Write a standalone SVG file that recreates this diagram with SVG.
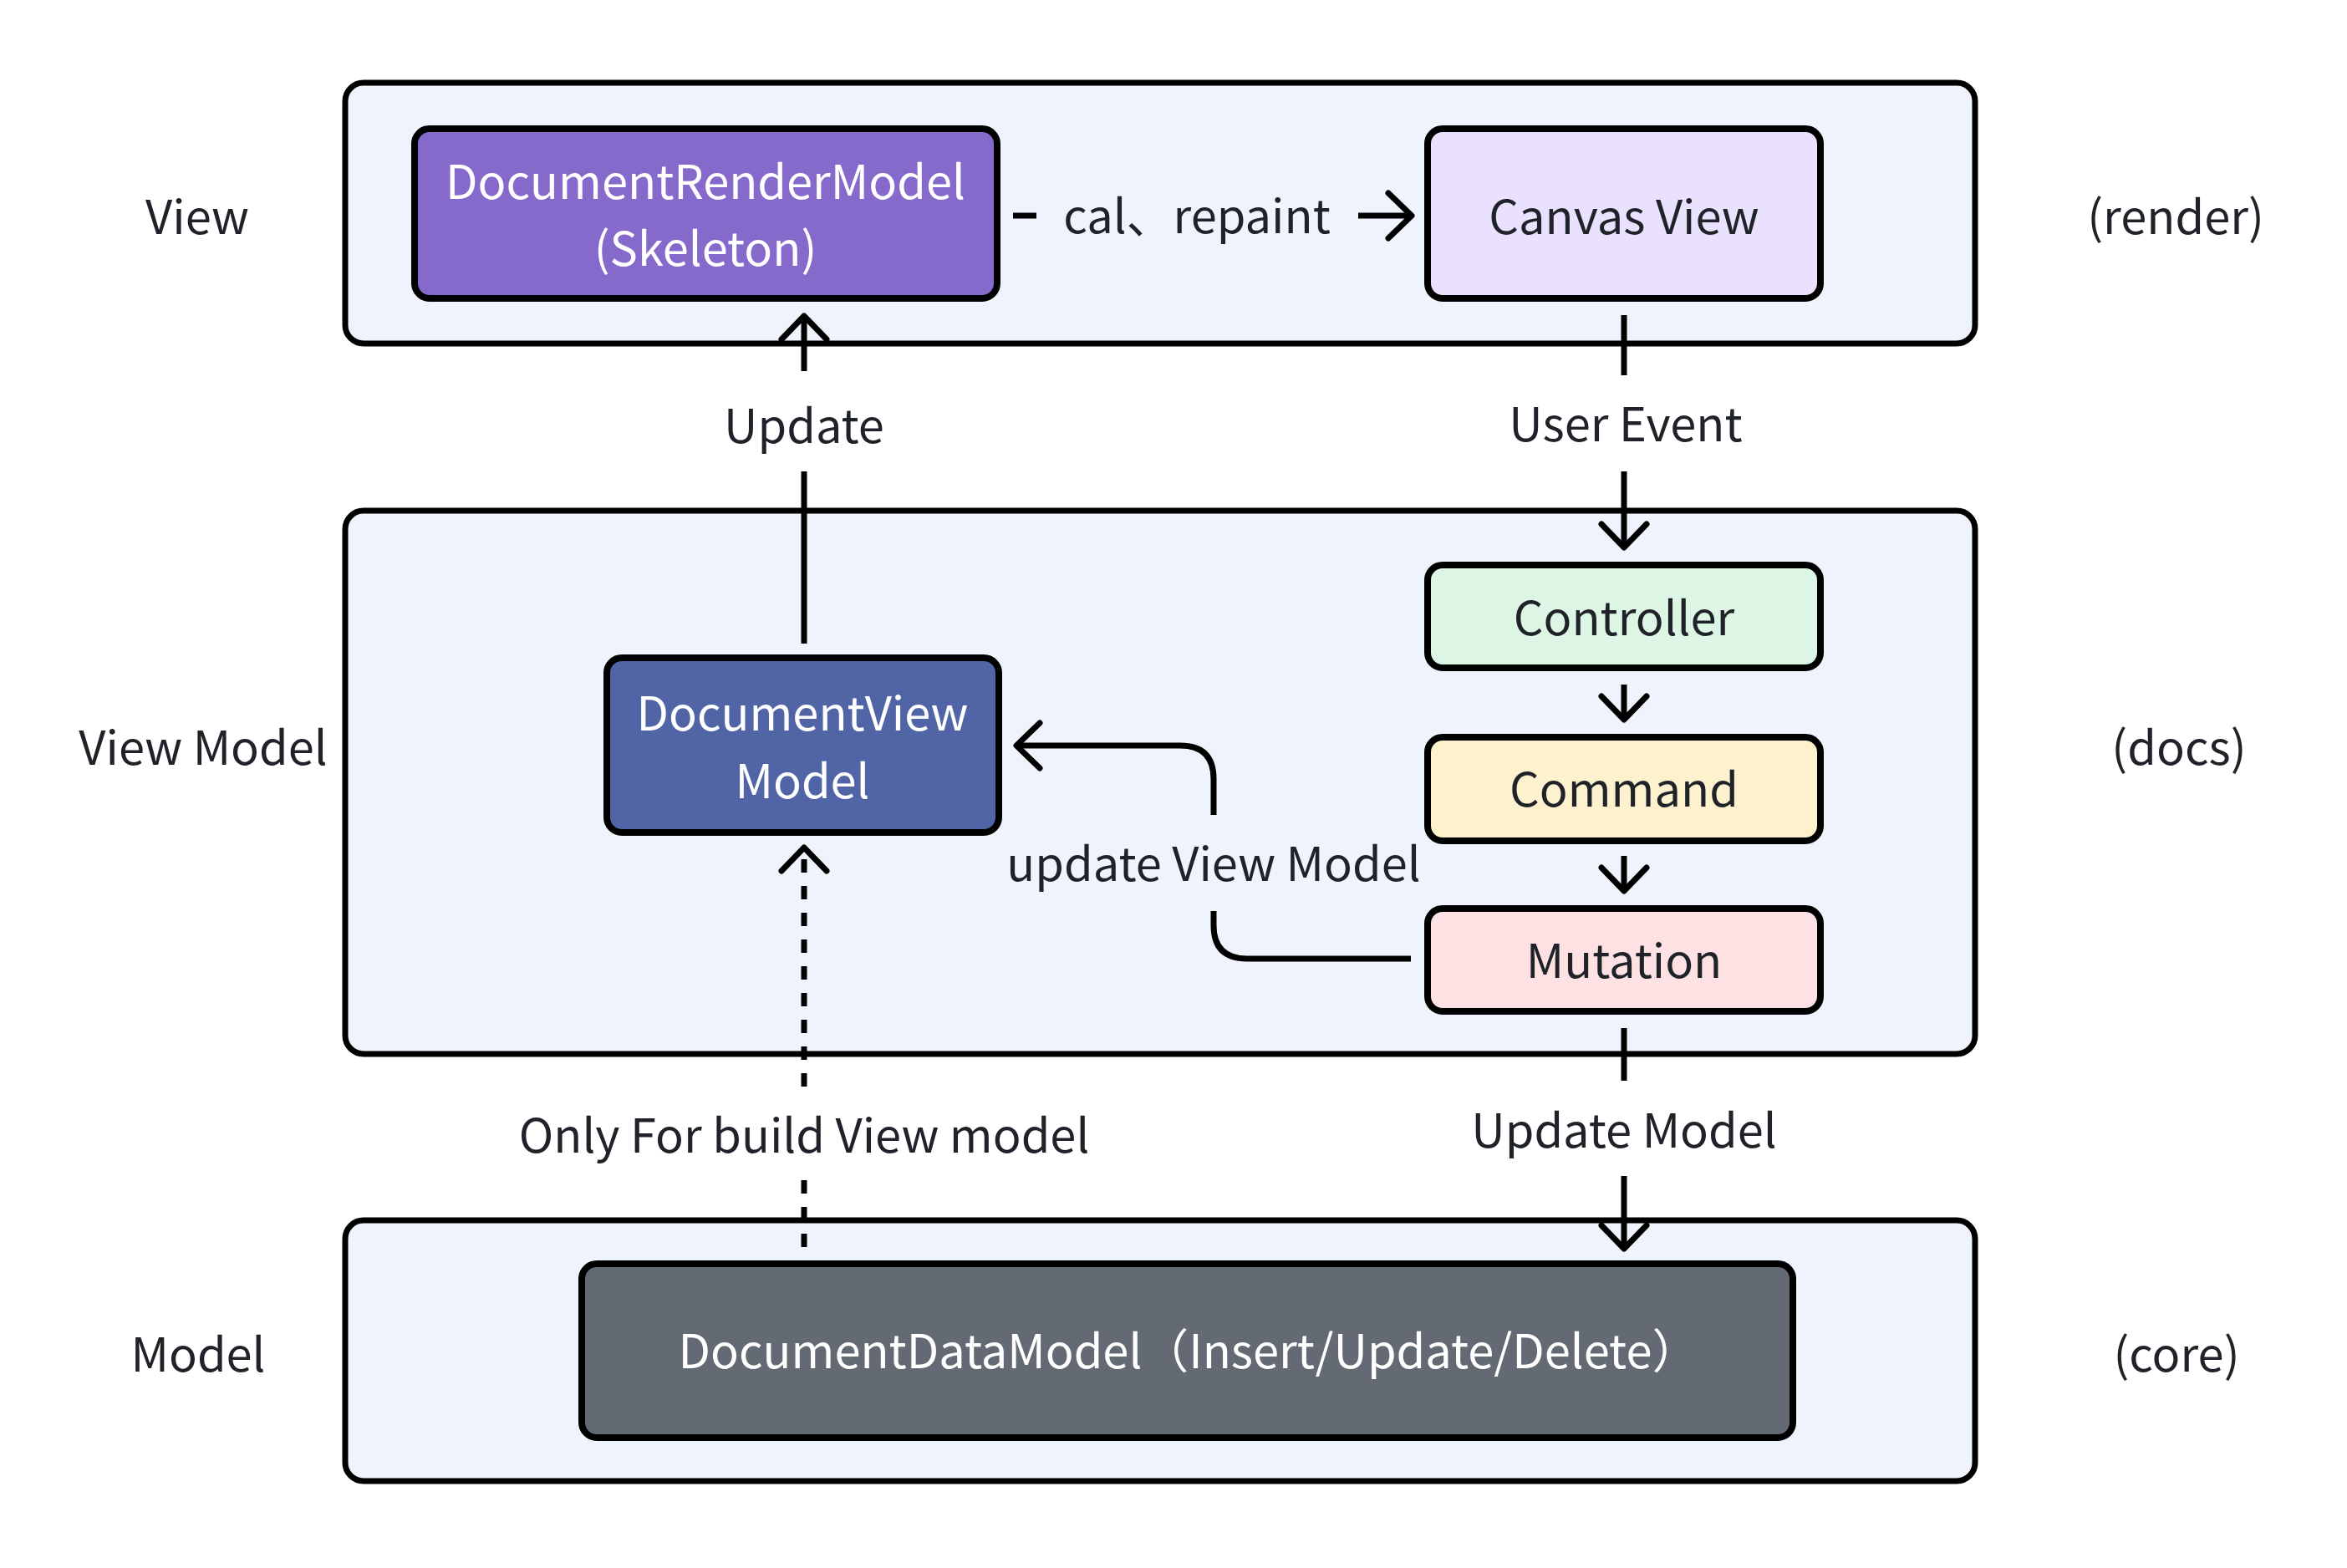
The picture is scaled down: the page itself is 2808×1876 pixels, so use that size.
<svg xmlns="http://www.w3.org/2000/svg" width="2808" height="1876" viewBox="0 0 2808 1876">
<style>
.grp{fill:#EFF3FC;stroke:#000;stroke-width:7}
.box{stroke:#000;stroke-width:8}
.t{font-family:"Noto Sans CJK SC","Noto Sans",sans-serif;font-size:56px;fill:#1F2329;text-anchor:middle}
.w{fill:#FFFFFF}
.c{fill:none;stroke:#000;stroke-width:7}
.d{stroke-dasharray:16 16}
</style>
<defs>
<marker id="ah" markerUnits="userSpaceOnUse" orient="auto" markerWidth="60" markerHeight="80" refX="0" refY="0" viewBox="-40 -40 60 80" overflow="visible">
<path d="M-28,-27 L0,0 L-28,27" fill="none" stroke="#000" stroke-width="7" stroke-linecap="round" stroke-linejoin="round"/>
</marker>
</defs>
<rect width="2808" height="1876" fill="#FFFFFF"/>
<g id="layers">
<rect class="grp" x="413" y="99" width="1950" height="312" rx="22"/>
<rect class="grp" x="413" y="611" width="1950" height="650" rx="22"/>
<rect class="grp" x="413" y="1460" width="1950" height="312" rx="22"/>
<text class="t" x="236" y="280">View</text>
<text class="t" x="243" y="915">View Model</text>
<text class="t" x="237" y="1641">Model</text>
<text class="t" x="2603" y="280">(render)</text>
<text class="t" x="2607" y="915">(docs)</text>
<text class="t" x="2604" y="1641">(core)</text>
</g>
<g id="connectors">
<path class="c" d="M1212 258 H1240 M1625 258 H1689" marker-end="url(#ah)"/>
<text class="t" x="1432" y="279">cal、repaint</text>
<path class="c" d="M962 770 V564 M962 444 V378" marker-end="url(#ah)"/>
<text class="t" x="962" y="530">Update</text>
<path class="c" d="M1943 377 V449 M1943 564 V655" marker-end="url(#ah)"/>
<text class="t" x="1945" y="528">User Event</text>
<path class="c" d="M1943 819 V861" marker-end="url(#ah)"/>
<path class="c" d="M1943 1024 V1066" marker-end="url(#ah)"/>
<path class="c" d="M1688 1147 H1492 Q1452 1147 1452 1107 V1090 M1452 975 V932 Q1452 892 1412 892 H1216" marker-end="url(#ah)"/>
<text class="t" x="1452" y="1054">update View Model</text>
<path class="c d" d="M962 1492 V1405 M962 1300 V1014" marker-end="url(#ah)"/>
<text class="t" x="962" y="1379">Only For build View model</text>
<path class="c" d="M1943 1230 V1293 M1943 1407 V1494" marker-end="url(#ah)"/>
<text class="t" x="1943" y="1373">Update Model</text>
</g>
<g id="node-render-model">
<rect class="box" x="496" y="154" width="697" height="203" rx="18" fill="#8569CB"/>
<text class="t w" x="844" y="238">DocumentRenderModel</text>
<text class="t w" x="844" y="318">(Skeleton)</text>
</g>
<g id="node-canvas-view">
<rect class="box" x="1708" y="154" width="470" height="203" rx="18" fill="#E9E1FD"/>
<text class="t" x="1943" y="280">Canvas View</text>
</g>
<g id="node-view-model">
<rect class="box" x="726" y="787" width="469" height="209" rx="18" fill="#5064A6"/>
<text class="t w" x="960" y="874">DocumentView</text>
<text class="t w" x="960" y="955">Model</text>
</g>
<g id="node-controller">
<rect class="box" x="1708" y="676" width="470" height="123" rx="18" fill="#DDF5E5"/>
<text class="t" x="1943" y="760">Controller</text>
</g>
<g id="node-command">
<rect class="box" x="1708" y="882" width="470" height="124" rx="18" fill="#FEF1CE"/>
<text class="t" x="1943" y="965">Command</text>
</g>
<g id="node-mutation">
<rect class="box" x="1708" y="1087" width="470" height="123" rx="18" fill="#FEE2E3"/>
<text class="t" x="1943" y="1170">Mutation</text>
</g>
<g id="node-data-model">
<rect class="box" x="696" y="1512" width="1449" height="208" rx="18" fill="#646A73"/>
<text class="t w" x="1422" y="1637">DocumentDataModel（Insert/Update/Delete）</text>
</g>
</svg>
